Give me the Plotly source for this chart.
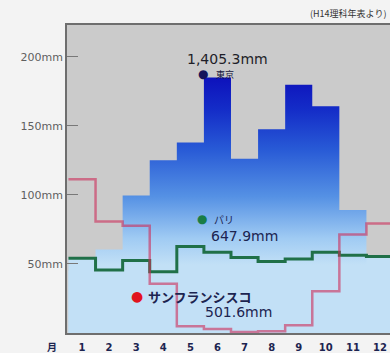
import plotly.graph_objects as go

# Monthly precipitation (mm)
months = list(range(1, 13))
month_labels = [f"<b>{m}</b>" for m in months]
tokyo = [45.1, 60.4, 99.5, 125.0, 138.0, 185.0, 126.1, 147.5, 179.8, 164.1, 89.1, 45.7]
paris = [54.2, 45.6, 52.5, 44.3, 62.7, 58.4, 54.6, 51.8, 53.6, 58.5, 56.3, 55.4]
san_francisco = [111.3, 80.8, 77.7, 35.6, 4.8, 2.9, 0.8, 1.3, 5.6, 30.2, 71.4, 79.2]
y_ticks = [50, 100, 150, 200]
y_tick_labels = [f"{v}mm" for v in y_ticks]

W, H = 390, 353
ML, MR, MT, MB = 67, 0, 25, 20


def steps(values):
    """Month-edge coordinates for an hv step line."""
    xs = [m - 0.5 for m in months] + [months[-1] + 0.5]
    ys = list(values) + [values[-1]]
    return xs, ys


def px(x):
    return (x - ML) / (W - ML - MR)


def py(y):
    return (H - MB - y) / (H - MT - MB)


low_blue = "rgb(194,224,246)"

fig = go.Figure()

# Paris: light fill beneath its line
xp, yp = steps(paris)
fig.add_trace(go.Scatter(
    x=xp, y=yp, mode="lines", line_shape="hv", line=dict(width=0),
    fill="tozeroy", fillcolor=low_blue, hoverinfo="skip",
))

# Tokyo: blue gradient steps
xt, yt = steps(tokyo)
fig.add_trace(go.Scatter(
    x=xt, y=yt, mode="lines", line_shape="hv", line=dict(width=0),
    fill="tozeroy",
    fillgradient=dict(
        type="vertical", start=0, stop=190,
        colorscale=[
            [0.0, low_blue],
            [0.26, low_blue],
            [0.36, "rgb(160,203,243)"],
            [0.52, "rgb(85,145,228)"],
            [0.7, "rgb(40,90,214)"],
            [0.85, "rgb(20,45,200)"],
            [1.0, "rgb(12,12,185)"],
        ],
    ),
    hoverinfo="skip",
))

# Paris line
fig.add_trace(go.Scatter(
    x=xp, y=yp, mode="lines", line_shape="hv",
    line=dict(color="rgb(32,112,72)", width=3), hoverinfo="skip",
))

# San Francisco line
xs, ys = steps(san_francisco)
fig.add_trace(go.Scatter(
    x=xs, y=ys, mode="lines", line_shape="hv",
    line=dict(color="rgba(205,45,90,0.6)", width=2.5), hoverinfo="skip",
))

num_font = "DejaVu Sans"
jp_font = "Noto Sans CJK JP"
navy = "rgb(28,36,80)"

annotations = [
    dict(x=px(388), y=py(13), text="(H14理科年表より)", xanchor="right",
         font=dict(family=jp_font, size=9, color="#333")),
    dict(x=px(52), y=py(346), text="<b>月</b>", font=dict(family=jp_font, size=10, color=navy)),
    # Tokyo
    dict(x=px(227), y=py(59), text=f"{sum(tokyo):,.1f}mm",
         font=dict(family=num_font, size=14, color="rgb(30,30,40)")),
    dict(x=px(203), y=py(74), text="●", font=dict(family=num_font, size=12, color="rgb(20,20,90)")),
    dict(x=px(214), y=py(74), text="東京", xanchor="left",
         font=dict(family=jp_font, size=9, color="rgb(20,20,60)")),
    # Paris
    dict(x=px(202), y=py(219), text="●", font=dict(family=num_font, size=12, color="rgb(25,125,70)")),
    dict(x=px(212), y=py(219), text="パリ", xanchor="left",
         font=dict(family=jp_font, size=10, color=navy)),
    dict(x=px(244), y=py(236), text=f"{sum(paris):,.1f}mm",
         font=dict(family=num_font, size=14, color=navy)),
    # San Francisco
    dict(x=px(137), y=py(296), text="●", font=dict(family=num_font, size=14, color="rgb(225,20,30)")),
    dict(x=px(146), y=py(296), text="<b>サンフランシスコ</b>", xanchor="left",
         font=dict(family=jp_font, size=13, color=navy)),
    dict(x=px(238), y=py(312), text=f"{sum(san_francisco):,.1f}mm",
         font=dict(family=num_font, size=14, color=navy)),
]
for a in annotations:
    a.update(xref="paper", yref="paper", showarrow=False)
    a.setdefault("xanchor", "center")
    a.setdefault("yanchor", "middle")

fig.update_layout(
    width=W, height=H,
    margin=dict(l=ML, r=MR, t=MT, b=MB),
    paper_bgcolor="rgb(243,243,243)",
    plot_bgcolor="rgb(203,203,203)",
    showlegend=False,
    annotations=annotations,
    xaxis=dict(
        range=[0.446, 12.37], tickvals=months, ticktext=month_labels,
        showgrid=False, zeroline=False, showline=True, mirror=True,
        linecolor="rgb(110,110,110)", linewidth=1.5,
        ticks="outside", ticklen=4, tickcolor="rgba(0,0,0,0)",
        tickfont=dict(family=num_font, size=10, color=navy),
    ),
    yaxis=dict(
        range=[0, 223], tickvals=y_ticks, ticktext=y_tick_labels,
        showgrid=False, zeroline=False, showline=True,
        linecolor="rgb(110,110,110)", linewidth=1.5,
        ticks="inside", ticklen=11, tickcolor="rgb(120,120,120)", tickwidth=1,
        tickfont=dict(family=num_font, size=11, color="rgb(95,95,95)"),
    ),
)

fig.write_html("out.html")
